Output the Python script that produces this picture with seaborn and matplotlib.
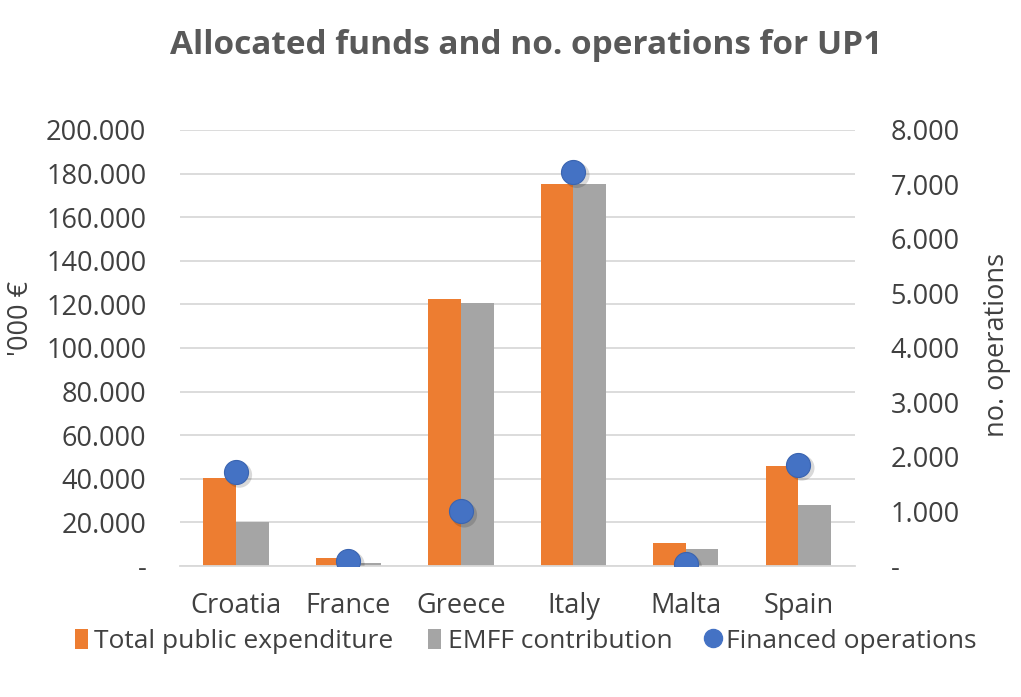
import numpy as np
import pandas as pd
import seaborn as sns
import matplotlib.pyplot as plt
from matplotlib.lines import Line2D
from matplotlib.patches import Patch
from matplotlib.ticker import FuncFormatter

countries = ["Croatia", "France", "Greece", "Italy", "Malta", "Spain"]
total_public = [40.5, 3.5, 122.5, 175.0, 10.5, 45.8]   # '000 € (thousands)
emff = [20.0, 1.5, 120.5, 175.0, 8.0, 28.0]
operations = [1730, 90, 1000, 7230, 30, 1860]

series_names = ["Total public expenditure", "EMFF contribution"]
left_ticks = [0, 20, 40, 60, 80, 100, 120, 140, 160, 180, 200]
right_ticks = [0, 1000, 2000, 3000, 4000, 5000, 6000, 7000, 8000]

TEXT = "#404040"
TITLE = "#595959"
ORANGE = "#ED7D31"
GREY = "#A5A5A5"
BLUE = "#4472C4"
FS = 19.5


def thousands(v, pos=None):
    if v == 0:
        return "-"
    return f"{int(round(v)):,}".replace(",", ".")


def fmt_left(v, pos=None):
    if v == 0:
        return "-"
    return f"{int(round(v))}.000"


df = pd.DataFrame({
    "country": countries * 2,
    "series": [series_names[0]] * len(countries) + [series_names[1]] * len(countries),
    "value": total_public + emff,
})

sns.set_theme(style="white")
plt.rcParams["font.family"] = ["Open Sans", "DejaVu Sans"]

fig = plt.figure(figsize=(10.21, 6.97), dpi=100)
ax = fig.add_axes([0.176, 0.188, 0.661, 0.6255])

sns.barplot(data=df, x="country", y="value", hue="series",
            palette=[ORANGE, GREY], width=0.58, gap=0, ax=ax,
            legend=False, saturation=1, edgecolor="none")

ax.set_xlim(-0.5, len(countries) - 0.5)
ax.set_ylim(0, 200)
ax.set_yticks(left_ticks)
ax.yaxis.set_major_formatter(FuncFormatter(fmt_left))
ax.grid(axis="y", color="#D9D9D9", linewidth=1.3)
ax.set_axisbelow(True)
for s in ["top", "left", "right"]:
    ax.spines[s].set_visible(False)
ax.spines["bottom"].set_color("#D9D9D9")
ax.spines["bottom"].set_linewidth(1.3)
ax.tick_params(axis="y", length=0, labelsize=FS, labelcolor=TEXT, pad=24)
ax.tick_params(axis="x", length=0, labelsize=FS, labelcolor=TEXT, pad=19)
ax.set_xlabel("")
ax.set_ylabel("'000 €", fontsize=FS, color=TEXT)
ax.yaxis.set_label_coords(-0.214, 0.567)

ax2 = ax.twinx()
xpos = np.arange(len(countries))
# soft shadow under the dots
sns.scatterplot(x=xpos + 0.03, y=np.array(operations) - 60, ax=ax2, s=340,
                color="#000000", alpha=0.15, edgecolor="none", legend=False)
sns.scatterplot(x=xpos, y=operations, ax=ax2, s=300, color=BLUE,
                edgecolor="#3A64B0", linewidth=0.8, legend=False, zorder=5)
ax2.set_ylim(0, 8000)
ax2.set_yticks(right_ticks)
ax2.yaxis.set_major_formatter(FuncFormatter(thousands))
for s in ["top", "left", "right", "bottom"]:
    ax2.spines[s].set_visible(False)
ax2.tick_params(axis="y", length=0, labelsize=FS, labelcolor=TEXT, pad=26)
ax2.set_ylabel("no. operations", fontsize=FS, color=TEXT)
ax2.yaxis.set_label_coords(1.19, 0.507)
ax2.set_xlim(-0.5, len(countries) - 0.5)

fig.text(0.515, 0.935, "Allocated funds and no. operations for UP1",
         ha="center", va="center", fontsize=24, fontweight="bold", color=TITLE)

handles = [
    Patch(facecolor=ORANGE, edgecolor="none", label=series_names[0]),
    Patch(facecolor=GREY, edgecolor="none", label=series_names[1]),
    Line2D([], [], marker="o", linestyle="none", markersize=13,
           markerfacecolor=BLUE, markeredgecolor=BLUE, label="Financed operations"),
]
leg = fig.legend(handles=handles, loc="center", bbox_to_anchor=(0.515, 0.08),
                 ncol=3, frameon=False, fontsize=19, handlelength=0.5,
                 handleheight=0.8, handletextpad=0.25, columnspacing=1.3)
for t in leg.get_texts():
    t.set_color(TEXT)

fig.savefig("out.png", dpi=100)
